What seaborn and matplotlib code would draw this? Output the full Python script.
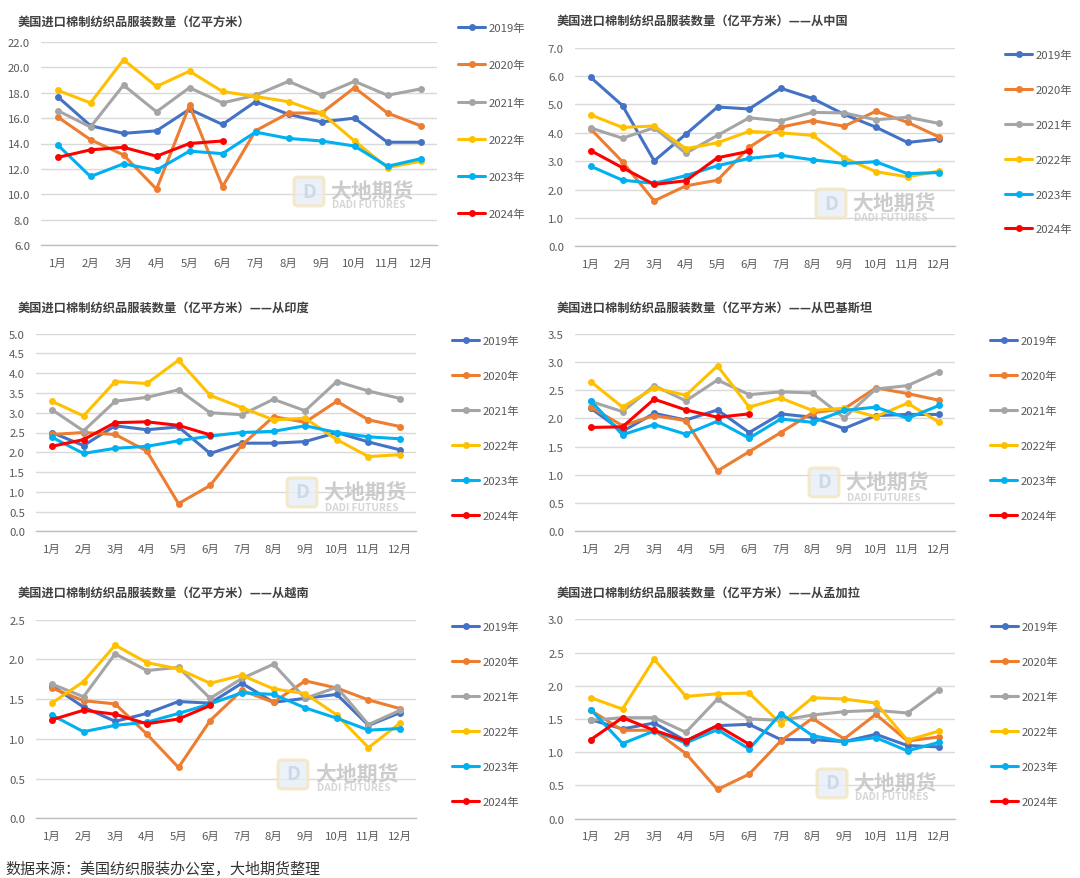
import matplotlib
matplotlib.use("Agg")
import matplotlib.pyplot as plt
from matplotlib.patches import FancyBboxPatch
import seaborn as sns
import pandas as pd

# ---------------- data ----------------
months = ["1月", "2月", "3月", "4月", "5月", "6月", "7月", "8月", "9月", "10月", "11月", "12月"]
years = ["2019年", "2020年", "2021年", "2022年", "2023年", "2024年"]
colors = ["#4472C4", "#ED7D31", "#A5A5A5", "#FFC000", "#00B0F0", "#FF0000"]

# total
total_2019 = [17.7, 15.4, 14.8, 15.0, 16.7, 15.5, 17.3, 16.3, 15.7, 16.0, 14.1, 14.1]
total_2020 = [16.1, 14.3, 13.1, 10.4, 17.0, 10.6, 15.0, 16.4, 16.4, 18.4, 16.4, 15.4]
total_2021 = [16.6, 15.3, 18.6, 16.5, 18.4, 17.2, 17.8, 18.9, 17.8, 18.9, 17.8, 18.3]
total_2022 = [18.2, 17.2, 20.6, 18.5, 19.7, 18.1, 17.7, 17.3, 16.4, 14.2, 12.1, 12.6]
total_2023 = [13.9, 11.4, 12.4, 11.9, 13.4, 13.2, 14.9, 14.4, 14.2, 13.8, 12.2, 12.8]
total_2024 = [12.9, 13.5, 13.7, 13.0, 14.0, 14.2]

# China
china_2019 = [5.95, 4.96, 3.01, 3.95, 4.91, 4.84, 5.57, 5.21, 4.65, 4.20, 3.66, 3.78]
china_2020 = [4.13, 2.98, 1.60, 2.13, 2.33, 3.49, 4.20, 4.43, 4.23, 4.76, 4.37, 3.85]
china_2021 = [4.17, 3.81, 4.18, 3.28, 3.91, 4.53, 4.42, 4.72, 4.70, 4.46, 4.55, 4.33]
china_2022 = [4.63, 4.19, 4.24, 3.44, 3.65, 4.05, 4.00, 3.91, 3.12, 2.63, 2.45, 2.65]
china_2023 = [2.82, 2.33, 2.22, 2.49, 2.84, 3.10, 3.21, 3.05, 2.92, 2.98, 2.56, 2.60]
china_2024 = [3.37, 2.77, 2.18, 2.31, 3.12, 3.35]

# India
india_2019 = [2.50, 2.17, 2.67, 2.57, 2.64, 1.97, 2.23, 2.23, 2.27, 2.50, 2.26, 2.06]
india_2020 = [2.45, 2.50, 2.45, 2.03, 0.70, 1.16, 2.18, 2.90, 2.76, 3.29, 2.82, 2.65]
india_2021 = [3.08, 2.54, 3.29, 3.39, 3.58, 3.00, 2.95, 3.34, 3.05, 3.79, 3.55, 3.36]
india_2022 = [3.29, 2.92, 3.79, 3.74, 4.33, 3.44, 3.13, 2.82, 2.86, 2.32, 1.89, 1.94]
india_2023 = [2.38, 1.97, 2.10, 2.15, 2.29, 2.41, 2.50, 2.53, 2.67, 2.50, 2.39, 2.34]
india_2024 = [2.15, 2.32, 2.75, 2.77, 2.68, 2.44]

# Pakistan
pak_2019 = [2.18, 1.77, 2.09, 1.97, 2.15, 1.75, 2.08, 2.02, 1.82, 2.05, 2.07, 2.07]
pak_2020 = [2.20, 1.87, 2.05, 1.96, 1.07, 1.41, 1.75, 2.10, 2.17, 2.54, 2.44, 2.32]
pak_2021 = [2.30, 2.12, 2.58, 2.31, 2.68, 2.42, 2.47, 2.45, 2.01, 2.52, 2.58, 2.83]
pak_2022 = [2.65, 2.20, 2.54, 2.41, 2.93, 2.20, 2.36, 2.14, 2.18, 2.03, 2.27, 1.93]
pak_2023 = [2.31, 1.71, 1.89, 1.72, 1.95, 1.65, 1.99, 1.93, 2.14, 2.20, 2.00, 2.23]
pak_2024 = [1.84, 1.85, 2.34, 2.15, 2.02, 2.08]

# Vietnam
vn_2019 = [1.67, 1.40, 1.22, 1.32, 1.47, 1.45, 1.70, 1.46, 1.51, 1.56, 1.17, 1.33]
vn_2020 = [1.64, 1.48, 1.44, 1.06, 0.64, 1.23, 1.61, 1.46, 1.73, 1.64, 1.49, 1.38]
vn_2021 = [1.69, 1.53, 2.07, 1.86, 1.90, 1.51, 1.76, 1.94, 1.51, 1.65, 1.18, 1.36]
vn_2022 = [1.45, 1.72, 2.18, 1.96, 1.88, 1.70, 1.80, 1.63, 1.57, 1.30, 0.89, 1.20]
vn_2023 = [1.30, 1.09, 1.17, 1.21, 1.32, 1.44, 1.58, 1.56, 1.39, 1.26, 1.11, 1.13]
vn_2024 = [1.24, 1.36, 1.31, 1.19, 1.25, 1.42]

# Bangladesh
bd_2019 = [1.49, 1.35, 1.44, 1.17, 1.40, 1.42, 1.19, 1.19, 1.16, 1.27, 1.10, 1.08]
bd_2020 = [1.63, 1.33, 1.33, 0.98, 0.44, 0.67, 1.17, 1.51, 1.20, 1.57, 1.17, 1.23]
bd_2021 = [1.48, 1.52, 1.52, 1.30, 1.80, 1.50, 1.48, 1.56, 1.61, 1.63, 1.59, 1.94]
bd_2022 = [1.82, 1.65, 2.40, 1.84, 1.88, 1.89, 1.43, 1.82, 1.80, 1.74, 1.18, 1.32]
bd_2023 = [1.64, 1.13, 1.32, 1.14, 1.34, 1.05, 1.58, 1.25, 1.16, 1.22, 1.02, 1.15]
bd_2024 = [1.19, 1.52, 1.33, 1.17, 1.40, 1.12]

base_title = "美国进口棉制纺织品服装数量（亿平方米）"
titles = [base_title, base_title + "——从中国", base_title + "——从印度",
          base_title + "——从巴基斯坦", base_title + "——从越南", base_title + "——从孟加拉"]
y_ranges = [(6, 22, 2), (0, 7, 1), (0, 5, 0.5), (0, 3.5, 0.5), (0, 2.5, 0.5), (0, 3, 0.5)]

panels = [
    [total_2019, total_2020, total_2021, total_2022, total_2023, total_2024],
    [china_2019, china_2020, china_2021, china_2022, china_2023, china_2024],
    [india_2019, india_2020, india_2021, india_2022, india_2023, india_2024],
    [pak_2019, pak_2020, pak_2021, pak_2022, pak_2023, pak_2024],
    [vn_2019, vn_2020, vn_2021, vn_2022, vn_2023, vn_2024],
    [bd_2019, bd_2020, bd_2021, bd_2022, bd_2023, bd_2024],
]
source_text = "数据来源：美国纺织服装办公室，大地期货整理"

# ---------------- layout (pixels) ----------------
W, H = 1080, 879
def fx(px):
    return px / W
def fy(py):
    return 1 - py / H

# x0, x1, ytop, ybottom
axes_px = [(41, 437, 43, 246), (575, 955, 48.7, 247.3), (36, 416, 334.7, 532.3),
           (575, 955, 334.7, 532.3), (36, 416, 620.7, 819.3), (575, 955, 620.3, 819.7)]
title_px = [(18, 22), (557, 21), (18, 308), (557, 308), (18, 593), (557, 593)]
legend_px = [(458, 122, 2.35), (1005, 143, 2.15), (452, 429.5, 2.15),
             (990, 429.5, 2.15), (452, 715.5, 2.15), (991, 715.5, 2.15)]
wm_px = [(294, 330, 191, 204), (816, 852, 203, 217), (287, 323, 492, 507),
         (809, 845, 482, 497), (278, 315, 774, 787), (817, 853, 783, 796)]

sns.set_theme(style="white")
plt.rcParams["font.family"] = ["Noto Sans CJK SC", "DejaVu Sans"]
plt.rcParams["axes.unicode_minus"] = False

fig = plt.figure(figsize=(W / 100, H / 100), dpi=100)
fig.patch.set_facecolor("white")

tick_color = "#595959"
grid_color = "#d9d9d9"

for i, series in enumerate(panels):
    x0, x1, yt, yb = axes_px[i]
    ax = fig.add_axes([fx(x0), fy(yb), (x1 - x0) / W, (yb - yt) / H])
    ax.set_facecolor("none")
    rows = []
    for yr, vals in zip(years, series):
        for m, v in zip(months, vals):
            rows.append({"month": m, "value": v, "year": yr})
    df = pd.DataFrame(rows)
    # ensure month order on a categorical axis
    ax.plot(months, [0] * 12, alpha=0)
    sns.lineplot(data=df, x="month", y="value", hue="year", hue_order=years,
                 palette=colors, marker="o", markersize=5, markeredgewidth=0,
                 linewidth=2.2, sort=False, legend=False, ax=ax, zorder=3)
    ymin, ymax, step = y_ranges[i]
    ax.set_ylim(ymin, ymax)
    ax.set_xlim(-0.5, 11.5)
    n = int(round((ymax - ymin) / step))
    yt_vals = [ymin + k * step for k in range(n + 1)]
    ax.set_yticks(yt_vals)
    ax.set_yticklabels([f"{v:.1f}" for v in yt_vals])
    ax.set_xticks(range(12))
    ax.set_xticklabels(months)
    ax.set_xticks([k - 0.5 for k in range(13)], minor=True)
    ax.tick_params(axis="x", which="major", length=0, pad=9, labelsize=8.2, colors=tick_color)
    ax.tick_params(axis="x", which="minor", length=3.5, width=0.8, color="#bfbfbf", direction="out")
    ax.tick_params(axis="y", length=0, pad=8, labelsize=8.2, colors=tick_color)
    ax.set_xlabel("")
    ax.set_ylabel("")
    ax.yaxis.grid(True, color=grid_color, linewidth=1.0)
    ax.xaxis.grid(False)
    ax.set_axisbelow(True)
    for s in ["top", "left", "right"]:
        ax.spines[s].set_visible(False)
    ax.spines["bottom"].set_color("#bfbfbf")
    ax.spines["bottom"].set_linewidth(1.0)

    # legend
    data_lines = [ln for ln in ax.get_lines() if ln.get_alpha() != 0][:6]
    lx, ly, lsp = legend_px[i]
    ax.legend(data_lines, years, loc="center left", bbox_to_anchor=(fx(lx), fy(ly)),
              bbox_transform=fig.transFigure, frameon=False, borderpad=0,
              borderaxespad=0, handlelength=2.4, handletextpad=0.25,
              labelspacing=lsp, fontsize=8.2, labelcolor=tick_color)

    # title
    tx, ty = title_px[i]
    fig.text(fx(tx), fy(ty), titles[i], fontsize=8.8, fontweight="bold",
             color="#404040", ha="left", va="center")

    # watermark
    lgx, wx, wy1, wy2 = wm_px[i]
    fig.patches.append(FancyBboxPatch((fx(lgx), fy(wy1 + 16)), 30 / W, 29 / H,
                                      boxstyle="round,pad=0,rounding_size=0.004",
                                      transform=fig.transFigure, facecolor="#e8eef6",
                                      edgecolor="#f3e6bf", linewidth=2.2, alpha=0.8,
                                      zorder=0))
    fig.text(fx(lgx + 15), fy(wy1 + 1), "D", fontsize=14, fontweight="bold",
             color="#c9d7ea", ha="center", va="center", alpha=0.9, zorder=0)
    fig.text(fx(wx), fy(wy1), "大地期货", fontsize=15, fontweight="bold",
             color="#c4c4c4", ha="left", va="center", alpha=0.85, zorder=0)
    fig.text(fx(wx + 2), fy(wy2 + 1), "DADI FUTURES", fontsize=7.3, fontweight="bold",
             color="#cfcfcf", ha="left", va="center", alpha=0.85, zorder=0)

fig.text(fx(5), fy(869), source_text, fontsize=10.8, color="#333333",
         ha="left", va="center")

fig.savefig("out.png", dpi=100, facecolor="white")
